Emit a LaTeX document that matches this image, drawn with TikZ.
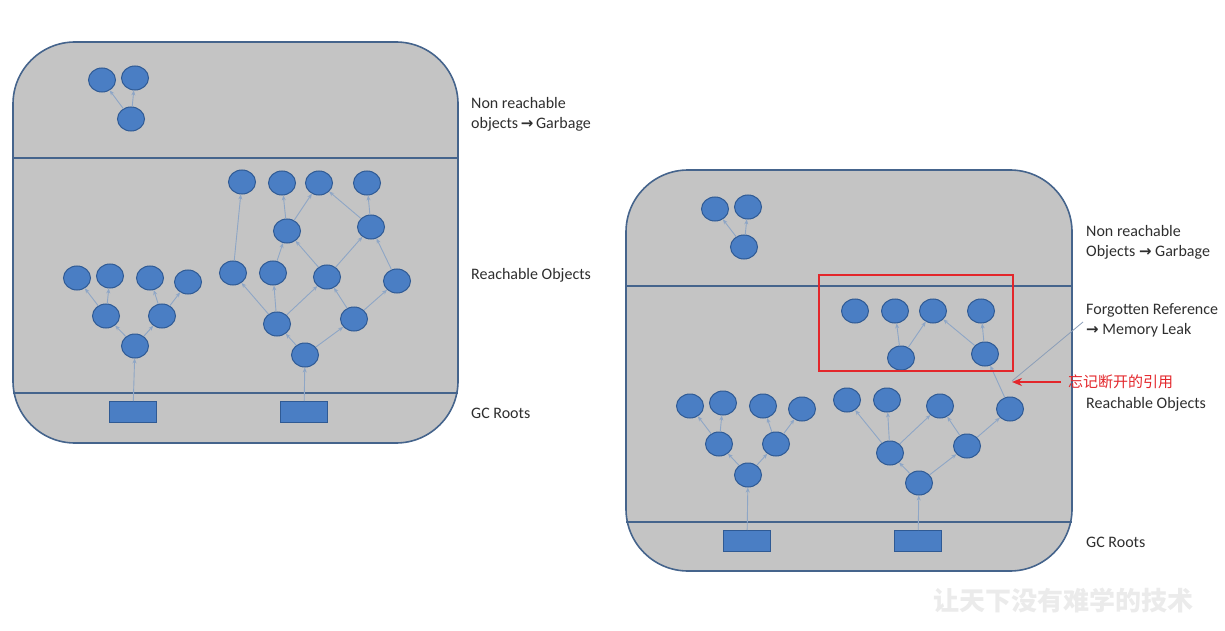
\documentclass[tikz,border=0pt]{standalone}
\usepackage{fontspec}
\setmainfont{Carlito}
\newfontfamily\cjk{Noto Sans CJK SC}
\newfontfamily\arrowfont{DejaVu Sans}
\usetikzlibrary{shapes.geometric,arrows.meta}
\definecolor{boxfill}{HTML}{C4C4C4}
\definecolor{boxline}{HTML}{45648C}
\definecolor{objfill}{HTML}{4A7EC4}
\definecolor{objline}{HTML}{2F5A94}
\definecolor{refline}{HTML}{8EA6C6}
\definecolor{labeltext}{HTML}{2E2E2E}
\definecolor{mark}{HTML}{E3262B}
\newcommand{\garrow}{{\arrowfont\bfseries\fontsize{15}{20}\selectfont →}}
\tikzset{
  obj/.style={ellipse,draw=objline,fill=objfill,line width=1pt,minimum width=27pt,minimum height=24pt,inner sep=0pt},
  root/.style={rectangle,draw=objline,fill=objfill,line width=1pt,minimum width=47pt,minimum height=21pt,inner sep=0pt},
  ref/.style={draw=refline,line width=0.9pt,-{Stealth[length=5pt,width=4pt]}},
  panel/.style={draw=boxline,fill=boxfill,line width=1.6pt,rounded corners=62pt},
  divider/.style={draw=boxline,line width=1.6pt},
  lbl/.style={anchor=west,align=left,text=labeltext,font=\fontsize{16}{20}\selectfont,inner sep=0pt},
}
\begin{document}
\begin{tikzpicture}[x=1pt,y=-1pt]
\useasboundingbox (0,0) rectangle (1225,631);
% ---------------- left panel ----------------
\path[panel] (13,42) rectangle (458,443);
\draw[divider] (13,158) -- (458,158);
\draw[divider] (13,393) -- (458,393);
\node[obj] (lg1) at (102,80) {};
\node[obj] (lg2) at (135,78) {};
\node[obj] (lg3) at (131,119) {};
\draw[ref] (lg3) -- (lg1);
\draw[ref] (lg3) -- (lg2);
% left tree
\node[obj] (la1) at (77,278) {};
\node[obj] (la2) at (110,276) {};
\node[obj] (la3) at (150,278) {};
\node[obj] (la4) at (188,282) {};
\node[obj] (la5) at (106,316) {};
\node[obj] (la6) at (162,316) {};
\node[obj] (la7) at (135,346) {};
\node[root] (lr1) at (133,412) {};
\draw[ref] (lr1) -- (la7);
\draw[ref] (la7) -- (la5);
\draw[ref] (la7) -- (la6);
\draw[ref] (la5) -- (la1);
\draw[ref] (la5) -- (la2);
\draw[ref] (la6) -- (la3);
\draw[ref] (la6) -- (la4);
% right tree
\node[obj] (lb1) at (242,182) {};
\node[obj] (lb2) at (282,183) {};
\node[obj] (lb3) at (319,183) {};
\node[obj] (lb4) at (367,183) {};
\node[obj] (lb5) at (287,231) {};
\node[obj] (lb6) at (371,227) {};
\node[obj] (lb7) at (233,273) {};
\node[obj] (lb8) at (273,273) {};
\node[obj] (lb9) at (327,277) {};
\node[obj] (lb10) at (397,281) {};
\node[obj] (lb11) at (277,324) {};
\node[obj] (lb12) at (354,319) {};
\node[obj] (lb13) at (305,355) {};
\node[root] (lr2) at (304,412) {};
\draw[ref] (lr2) -- (lb13);
\draw[ref] (lb13) -- (lb11);
\draw[ref] (lb13) -- (lb12);
\draw[ref] (lb11) -- (lb7);
\draw[ref] (lb11) -- (lb8);
\draw[ref] (lb11) -- (lb9);
\draw[ref] (lb12) -- (lb9);
\draw[ref] (lb12) -- (lb10);
\draw[ref] (lb7) -- (lb1);
\draw[ref] (lb8) -- (lb5);
\draw[ref] (lb9) -- (lb5);
\draw[ref] (lb9) -- (lb6);
\draw[ref] (lb10) -- (lb6);
\draw[ref] (lb5) -- (lb2);
\draw[ref] (lb5) -- (lb3);
\draw[ref] (lb6) -- (lb3);
\draw[ref] (lb6) -- (lb4);
% labels
\node[lbl] (lt1) at (471,114) {Non reachable\\objects\,\garrow\,Garbage};
\node[lbl] (lt2) at (471,275) {Reachable Objects};
\node[lbl] (lt3) at (471,413) {GC Roots};
% ---------------- right panel ----------------
\path[panel] (626,170) rectangle (1072,571);
\draw[divider] (626,286) -- (1072,286);
\draw[divider] (626,522) -- (1072,522);
\node[obj] (rg1) at (715,209) {};
\node[obj] (rg2) at (748,207) {};
\node[obj] (rg3) at (744,247) {};
\draw[ref] (rg3) -- (rg1);
\draw[ref] (rg3) -- (rg2);
% forgotten part
\node[obj] (rf1) at (855,311) {};
\node[obj] (rf2) at (895,311) {};
\node[obj] (rf3) at (933,311) {};
\node[obj] (rf4) at (981,311) {};
\node[obj] (rf5) at (901,358) {};
\node[obj] (rf6) at (985,354) {};
\draw[ref] (rf5) -- (rf2);
\draw[ref] (rf5) -- (rf3);
\draw[ref] (rf6) -- (rf3);
\draw[ref] (rf6) -- (rf4);
% left tree
\node[obj] (ra1) at (690,406) {};
\node[obj] (ra2) at (723,403) {};
\node[obj] (ra3) at (763,406) {};
\node[obj] (ra4) at (802,409) {};
\node[obj] (ra5) at (719,444) {};
\node[obj] (ra6) at (776,444) {};
\node[obj] (ra7) at (748,475) {};
\node[root] (rr1) at (747,541) {};
\draw[ref] (rr1) -- (ra7);
\draw[ref] (ra7) -- (ra5);
\draw[ref] (ra7) -- (ra6);
\draw[ref] (ra5) -- (ra1);
\draw[ref] (ra5) -- (ra2);
\draw[ref] (ra6) -- (ra3);
\draw[ref] (ra6) -- (ra4);
% right tree
\node[obj] (rb1) at (847,400) {};
\node[obj] (rb2) at (887,400) {};
\node[obj] (rb3) at (940,406) {};
\node[obj] (rb4) at (1010,409) {};
\node[obj] (rb5) at (890,453) {};
\node[obj] (rb6) at (967,446) {};
\node[obj] (rb7) at (919,483) {};
\node[root] (rr2) at (918,541) {};
\draw[ref] (rr2) -- (rb7);
\draw[ref] (rb7) -- (rb5);
\draw[ref] (rb7) -- (rb6);
\draw[ref] (rb5) -- (rb1);
\draw[ref] (rb5) -- (rb2);
\draw[ref] (rb5) -- (rb3);
\draw[ref] (rb6) -- (rb3);
\draw[ref] (rb6) -- (rb4);
\draw[ref] (rb4) -- (rf6);
% red highlight
\node[draw=mark,line width=1.6pt,minimum width=194pt,minimum height=96pt,inner sep=0pt] (hl) at (916,323) {};
% labels
\node[lbl] (rt1) at (1086,242) {Non reachable\\Objects \garrow\ Garbage};
\node[lbl] (rt2) at (1086,320.5) {Forgotten Reference\\\garrow\ Memory Leak};
\node[lbl] (rt3) at (1086,404) {Reachable Objects};
\node[lbl] (rt4) at (1086,542) {GC Roots};
\coordinate (cp) at (1012,381);
\draw[draw=refline!80!gray,line width=0.8pt] (1083,322) -- (cp);
% red annotation
\node[anchor=west,inner sep=0pt,text=mark,font=\cjk\fontsize{15}{18}\selectfont] (note) at (1068,382) {忘记断开的引用};
\coordinate (na) at (1012,382);
\draw[draw=mark,line width=2pt,-{Stealth[length=10pt,width=8pt]}] (1061,382) -- (na);
% watermark
\node[inner sep=0pt,text=black!8,font=\cjk\bfseries\fontsize{26}{28}\selectfont] (wm) at (1063,601) {让天下没有难学的技术};
\end{tikzpicture}
\end{document}
